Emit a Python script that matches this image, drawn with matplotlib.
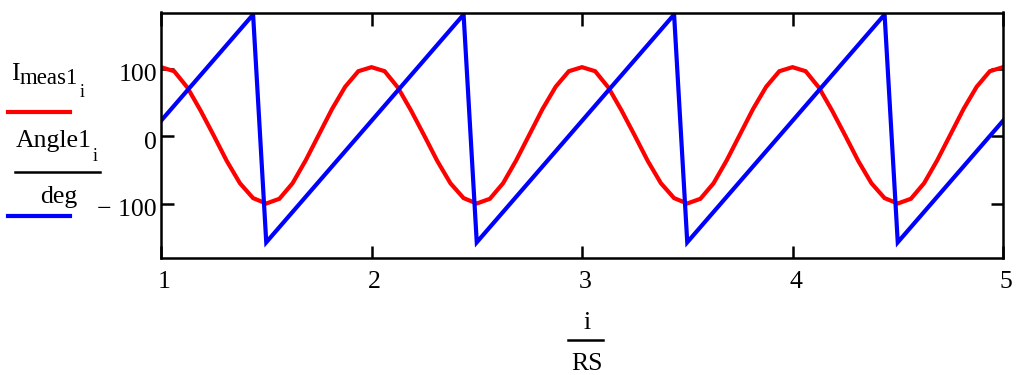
import numpy as np
import matplotlib
matplotlib.use('Agg')
import matplotlib.pyplot as plt
from matplotlib.lines import Line2D
from matplotlib.transforms import ScaledTranslation

plt.rcParams['font.family'] = ['Liberation Serif', 'DejaVu Serif']

# samples: i runs 16..80, plotted against i/RS
RS = 16
i = np.arange(16, 81)

imeas1 = [102, 96, 72, 38, 1, -37, -70, -92, -100, -93, -70, -36, 2, 40, 73, 96,
          102, 96, 72, 38, 1, -37, -70, -92, -100, -93, -70, -36, 2, 40, 73, 96,
          102, 96, 72, 38, 1, -37, -70, -92, -100, -93, -70, -36, 2, 40, 73, 96,
          102, 96, 72, 38, 1, -37, -70, -92, -100, -93, -70, -36, 2, 40, 73, 96,
          102]

# Angle1 already in degrees (Angle1/deg)
angle1 = [22.5, 45, 67.5, 90, 112.5, 135, 157.5, 180, -157.5, -135, -112.5, -90, -67.5, -45, -22.5, 0,
          22.5, 45, 67.5, 90, 112.5, 135, 157.5, 180, -157.5, -135, -112.5, -90, -67.5, -45, -22.5, 0,
          22.5, 45, 67.5, 90, 112.5, 135, 157.5, 180, -157.5, -135, -112.5, -90, -67.5, -45, -22.5, 0,
          22.5, 45, 67.5, 90, 112.5, 135, 157.5, 180, -157.5, -135, -112.5, -90, -67.5, -45, -22.5, 0,
          22.5]

xticks = [1, 2, 3, 4, 5]
yticks = [-100, 0, 100]
ytick_labels = ['\u2212 100', '0', '100']

W, H = 1016, 375
fig = plt.figure(figsize=(W / 100, H / 100), dpi=100)


def px(x, y):
    # pixel position (from top-left) -> figure fraction
    return x / W, 1 - y / H


ax = fig.add_axes([161 / W, 1 - 257.5 / H, (1003 - 161) / W, (257.5 - 12.5) / H])
x = i / RS
ax.plot(x, imeas1, color='#ff0000', lw=3, solid_joinstyle='miter')
ax.plot(x, angle1, color='#0000ff', lw=3, solid_joinstyle='miter')

ax.set_xlim(1, 5)
ax.set_ylim(-180, 183)
ax.set_xticks(xticks)
ax.set_xticklabels([str(t) for t in xticks])
ax.set_yticks(yticks)
ax.set_yticklabels(ytick_labels)
ax.tick_params(direction='in', length=9, width=1.8, top=True, right=True,
               labelsize=18.5, colors='black')
ax.tick_params(axis='x', pad=10)
ax.tick_params(axis='y', pad=3)
for s in ax.spines.values():
    s.set_linewidth(1.8)
    s.set_color('black')

# nudge tick labels like mathcad places them
for t in ax.xaxis.get_major_ticks():
    t.label1.set_transform(t.label1.get_transform() + ScaledTranslation(3 / 100, 0, fig.dpi_scale_trans))
for t in ax.yaxis.get_major_ticks():
    t.label1.set_transform(t.label1.get_transform() + ScaledTranslation(0, -4 / 100, fig.dpi_scale_trans))

fs = 18.5
# x axis label: i / RS
fig.text(*px(587, 329), 'i', ha='center', va='baseline', fontsize=fs)
fig.add_artist(Line2D([568 / W, 603 / W], [1 - 340 / H] * 2, color='black', lw=1.8))
fig.text(*px(587, 370), 'RS', ha='center', va='baseline', fontsize=fs)

# legend on the left
fig.text(*px(11, 80), 'I', ha='left', va='baseline', fontsize=fs)
fig.text(*px(19.5, 84.5), 'meas1', ha='left', va='baseline', fontsize=16.5)
fig.text(*px(80, 97), 'i', ha='left', va='baseline', fontsize=13)
fig.add_artist(Line2D([8 / W, 70 / W], [1 - 111.7 / H] * 2, color='#ff0000', lw=3))
fig.text(*px(16, 147), 'Angle1', ha='left', va='baseline', fontsize=fs)
fig.text(*px(93, 161), 'i', ha='left', va='baseline', fontsize=13)
fig.add_artist(Line2D([15 / W, 100 / W], [1 - 171.7 / H] * 2, color='black', lw=1.8))
fig.text(*px(58.5, 203), 'deg', ha='center', va='baseline', fontsize=fs)
fig.add_artist(Line2D([8 / W, 70 / W], [1 - 215.7 / H] * 2, color='#0000ff', lw=3))

fig.savefig('out.png', dpi=100)
